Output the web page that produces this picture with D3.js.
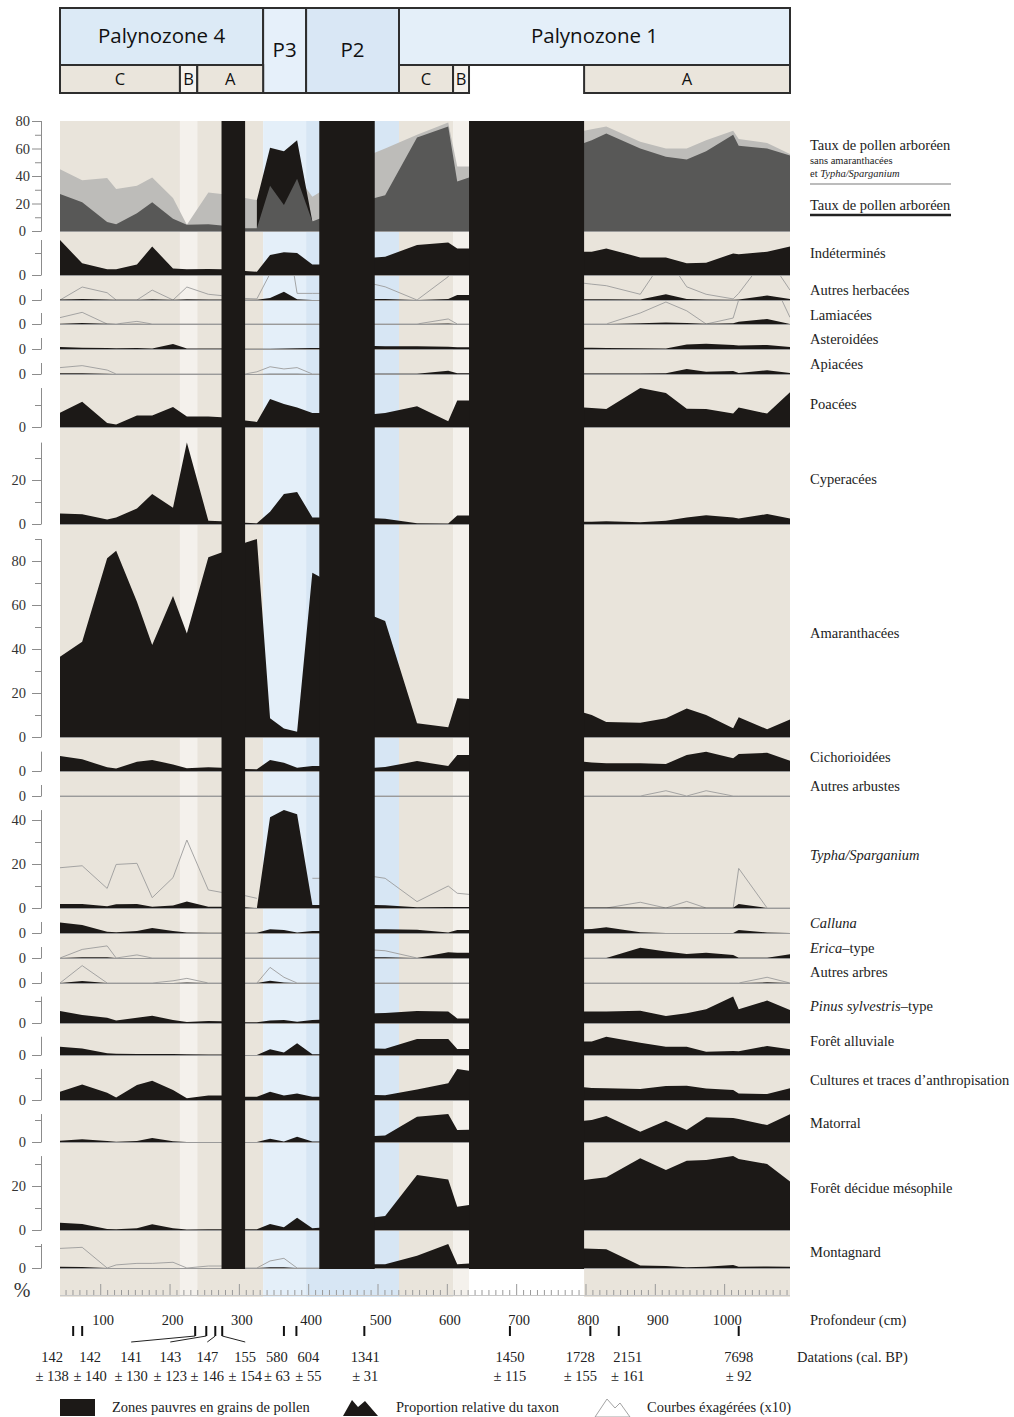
<!DOCTYPE html>
<html><head><meta charset="utf-8">
<script src="https://cdn.jsdelivr.net/npm/d3@7"></script>
<style>body{margin:0;background:#fff} svg{display:block}</style>
</head><body>
<svg id="c" width="1014" height="1417"></svg>
<script>
// ---------------- DATA ----------------
const sampleDepths = [42,74,110,123,153,175,205,225,256,275, 309,326,345,365,384,406,416, 496,511,557,602,615,632, 798,809,830,879,916,946,974,1013,1021,1062,1095];
const poorZones = [[275,309],[416,496],[632,798]];

const apTotal      = [27,21,6.5,5,13,21,9,4.5,5,4, 2,2,33,19,38,7,9, 24,26,68,76,36,39, 64,66,71,60,54,52,58,70,62,60,55];
const apNoAmaTypha = [45,37,38.5,30.5,33,39,24,4.5,28,27, 24,22.5,30,30,40,25,28, 57,60,70,79,47,47, 73,74,76,65,60,60,66,73,67,64,56];
const apP3         = [null,null,null,null,null,null,null,null,null,null, null,22.5,60.5,58,66,7,null, null,null,null,null,null,null, null,null,null,null,null,null,null,null,null,null,null];

const indetermines = [15.9,5.3,2.6,2.6,4.8,12.9,3,2.6,2.7,2.6, 1.8,1.5,9.1,10.3,10,4.8,4.8, 7.9,8.3,13.6,14.8,12.1,12.1, 10.6,10.6,12.1,8,8,5.3,5.6,9.8,9.4,10.6,12.9];
const autresHerb   = [0.2,0.5,0.2,0.1,0.1,0.3,0.1,0.3,0.2,0.2, 0.1,0.1,0.9,3.8,0.3,0,0, 0.5,0.5,0,0.5,2.3,2.3, 0.3,0.3,0.3,0.2,2.6,0.5,0.2,0.1,0.2,2,0.5];
const autresHerbX10= [0,5.9,3.3,0,0,4.5,0,5.9,2.6,2, 0.7,0.5,12,40,3,3,3, 7.1,6,0,10.6,20,20, 7.6,7.2,6.5,2.6,20,6,2.6,0.5,3,20,4.5];
const lamiacees    = [0.1,0.5,0.1,0,0.1,0,0,0,0,0, 0,0,0,0,0,0,0, 0,0,0,0.2,0,0, 0,0,0,0.3,0.7,0.4,0.1,0.3,1,2.3,0];
const lamiaceesX10 = [2.9,5.3,0,0,1.2,0,0,0,0,0, 0,0,0,0,0,0,0, 0,0,0,2.3,0,0, 0,0,0,5,10,6,0,2.7,11,25,3];
const asteroidees  = [0.9,0.6,0.5,0.3,0.4,0.2,2.3,0.2,0.2,0.2, 0.1,0.1,0.1,0.2,0.3,0.5,0.5, 1.4,1.3,1.3,1.0,0.8,0.8, 0.6,0.6,0.5,0.3,0.2,2.1,2.4,1.8,1.6,1.8,0.9];
const apiacees     = [0.3,0.3,0.1,0,0,0,0,0,0,0, 0,0,0.1,0.1,0.1,0,0, 0.1,0.1,0.1,1.5,0.3,0.3, 0.2,0.2,0.2,0.2,0.3,2.3,1,1.4,0.5,1.7,0.5];
const apiaceesX10  = [2.9,3.8,1.8,0,0,0,0,0,0,0, 0,1,3.3,2.3,2.9,0,0, 0,0,0,0,0,0, 0,0,0,0,0,0,0,0,0,0,0];
const poacees      = [6.5,11.5,1.8,1.1,5.2,5.2,9.1,4.8,4.8,4.4, 2.9,2.3,12.7,10.5,8.9,6.4,6.4, 5.9,6.4,9.4,2.6,12.1,12.1, 8.9,8.6,8.2,17.7,15.5,8.3,8.2,6.1,8.9,6.1,15.8];
const cyperacees   = [4.8,4.4,2.1,2.9,7.1,13.6,7.4,37,1.5,1.2, 0.6,0.3,5.6,13.6,14.5,3,3, 2.6,2.4,0.3,0.2,3.9,3.9, 1,1,1.2,0.8,1.5,3,4,3,2.5,4.5,2.5];
const amaranthacees= [36.5,43.3,81.2,84.7,61.5,41.8,64.1,47.1,81.7,83.9, 88.3,90,8.5,3.9,2.4,74.7,72.9, 54.7,52.7,6.2,4.4,17.6,17.3, 11,10,6.8,6.5,8.5,13,10,4,9,3.5,8];
const cichorioidees= [6.8,5.3,1.7,1.1,4.2,5,3,1.2,1.7,1.5, 0.9,0.8,5,3.8,1.5,2.3,2.3, 1.5,1.8,4.5,2.3,7.3,7.3, 4.2,3.9,3.5,3.5,3.2,7.3,8.8,5.8,7.7,8.3,4.7];
const autresArbustes   = [0,0,0,0,0,0,0,0,0,0, 0,0,0,0,0,0,0, 0,0,0,0,0,0, 0,0,0,0,0.15,0,0.15,0,0,0,0];
const autresArbustesX10= [0,0,0,0,0,0,0,0,0,0, 0,0,0,0,0,0,0, 0,0,0,0,0,0, 0,0,0,0,2.4,0,2.4,0,0,0,0];
const typha        = [1.8,1.8,0.8,1.7,1.8,0.6,1.1,2.9,0.6,0.6, 0.3,0,41.2,44.5,42.6,1.4,1.4, 1.4,1.2,0.3,0.5,0.5,0.5, 0.2,0.2,0.2,0.2,0.1,0.2,0.1,0.1,1.8,0,0];
const typhaX10     = [18.3,19.2,8.9,19.8,20.3,4.7,13.8,30.9,8.2,7.1, 5.6,4.4,null,null,null,13.5,13.5, 14.2,13.5,2.9,10,6.7,6.2, 0,0,0,2.6,0,3,0,0,18,0,0];
const calluna      = [4.8,3.6,0.6,0.3,0.9,2.3,0.9,0.2,0.1,0.1, 0.1,0.1,1.7,1.4,0.2,0.9,0.9, 1.7,1.7,1.5,0.2,1.4,1.4, 1.7,1.8,2.6,0.3,0,0,0,0,1.4,0.2,0];
const erica        = [0,0.3,0.3,0,0,0,0,0,0,0, 0,0,0,0,0,0,0, 0.3,0.3,0,2.6,2.4,2.4, 0,0,0,4.7,2.9,1.8,2.4,1.4,0.1,0.1,1.7];
const ericaX10     = [0,3.9,5.5,0,1.4,0,0,0,0,0, 0,0,0,0,0,0,0, 3.6,3.3,0,0,0,0, 0,0,0,0,0,0,0,0,0,0,0];
const autresArbres = [0,0.9,0,0,0,0,0,0.2,0,0, 0,0,1,0.2,0,0,0, 0,0,0,0,0,0, 0,0,0,0,0,0,0,0,0,0.3,0];
const autresArbresX10=[0,7.9,0,0,0,0,1,2.1,0,0, 0,0,7.1,2.6,0,0,0, 0,0,0,0,0,0, 0,0,0,0,0,0,0,0,0,2.6,0];
const pinus        = [5.5,3.6,2.4,1.1,2.4,3.3,1.4,0.5,0.9,0.8, 0.3,0.3,1.1,1.4,0.6,1.4,1.5, 4.4,4.5,5.5,5.2,2.1,2.1, 5.2,5.2,5.2,5.6,3.2,4.4,6.2,12,6.2,10.2,5.9];
const foretAlluviale=[3.8,3,0.8,0.6,0.5,0.4,0.5,0.3,0.2,0.2, 0,0,2.6,1.1,5.3,0.3,0.3, 3,2.8,7.3,7.3,2.7,2.7, 6.1,6.1,8.3,5.6,3.8,3.8,1.5,1.8,1.7,4.1,2.6];
const cultures     = [3.8,7.1,3.3,1.1,6.8,8.8,4.5,0.8,2.1,2.1, 1.5,1.5,3.8,2.1,3,1.5,1.5, 2.3,2.2,4.8,7.6,14.1,13.3, 5.8,5.5,5.3,5,6.4,6.5,5.2,4.5,3,2.7,5.3];
const matorral     = [0.6,1.2,0.5,0.1,0.5,1.8,0.3,0,0,0, 0,0,1.5,0.2,2.4,0.2,0.2, 2.7,2.9,11.5,12.7,5.5,5.6, 9.7,10,11.8,4.7,9.7,5.5,11.2,10.9,10.5,7.7,12.6];
const foretDecidue = [3.3,2.7,0.5,0.3,0.8,2.6,0.8,0.2,0.3,0.3, 0.3,0.3,2.7,1.2,5.6,0.8,1, 5.8,6.4,25,23,10.6,11.4, 22.7,23.2,24,32.6,27.3,31.5,31.8,33.6,32.3,30,22];
const montagnard   = [0.6,0.5,0,0,0,0,0,0,0,0, 0,0,0.3,0.3,0,0,0, 1.7,1.7,5.6,10.9,1.7,2.1, 8.9,8.8,8.5,1.1,0.9,0.3,0.6,1.4,0.6,0.7,0.6];
const montagnardX10= [8.9,9.4,0,1.4,2.1,2.1,2.6,0,0.9,0.9, 0,0,3.2,4.4,0,0,0, 0,0,0,0,0,0, 0,0,0,0,0,0,0,0,0,0,0];

const taxonLabels = [
  [["Indéterminés",0]],[["Autres herbacées",0]],[["Lamiacées",0]],[["Asteroidées",0]],[["Apiacées",0]],
  [["Poacées",0]],[["Cyperacées",0]],[["Amaranthacées",0]],[["Cichorioidées",0]],[["Autres arbustes",0]],
  [["Typha/Sparganium",1]],[["Calluna",1]],[["Erica",1],["–type",0]],[["Autres arbres",0]],
  [["Pinus sylvestris",1],["–type",0]],[["Forêt alluviale",0]],[["Cultures et traces d’anthropisation",0]],
  [["Matorral",0]],[["Forêt décidue mésophile",0]],[["Montagnard",0]]
];
const taxonValues = [indetermines,autresHerb,lamiacees,asteroidees,apiacees,poacees,cyperacees,amaranthacees,
  cichorioidees,autresArbustes,typha,calluna,erica,autresArbres,pinus,foretAlluviale,cultures,matorral,foretDecidue,montagnard];
const taxonX10 = [null,autresHerbX10,lamiaceesX10,null,apiaceesX10,null,null,null,null,autresArbustesX10,
  typhaX10,null,ericaX10,autresArbresX10,null,null,null,null,null,montagnardX10];

const palynozones = [["Palynozone 4",42,335],["P3",335,397],["P2",397,531],["Palynozone 1",531,1095]];
const subzones = [["C",42,215],["B",215,240],["A",240,335],["C",531,609],["B",609,632],["A",798,1095]];
const depthTicks = [100,200,300,400,500,600,700,800,900,1000];
const datationDepths = [61,74,237,253,266,276,365,383,481,691,807,848,1021];
const datationAges   = ["142","142","141","143","147","155","580","604","1341","1450","1728","2151","7698"];
const datationErrors = ["138","140","130","123","146","154","63","55","31","115","155","161","92"];

// ---------------- LAYOUT ----------------
const panelBase = [231,275,300,324,349,374,427,524,737,771,796,908,933,958,983,1023,1055,1100,1142,1230,1268];
const labelCenters = [253,290,315,339,364,404,479,633,757,786,855,923,948,972,1006,1041,1080,1123,1188,1252];
const datLabelShift = [-21,8,-64,-36,-8,23,-7,12,1,0,-10,9,0];
const datConnector  = [0,0,1,1,1,1,0,0,0,0,0,0,0];
const plotTop = 121, stripBottom = 1297;
const serif = "'Liberation Serif','Times New Roman',serif";
const sans = "'Open Sans','Noto Sans',sans-serif";
const FS = 14.5;
const TXT = "#222";
const C = {beige:"#E9E4DB", light:"#F4F1EC", blue1:"#E4EFF9", blue2:"#D7E6F4", black:"#1C1917",
  lightGray:"#BDBCB9", darkGray:"#585857", axis:"#8c8c8c", base:"#9a9a9a", exag:"#9c9c9c"};
const bgZones = [[42,215,C.beige],[215,240,C.light],[240,335,C.beige],[335,397,C.blue1],[397,531,C.blue2],
  [531,609,C.beige],[609,632,C.light],[632,798,"#ffffff"],[798,1095,C.beige]];

const svg = d3.select("#c");
const x = d3.scaleLinear().domain([42,1095]).range([60,790]);

// header
const hdr = svg.append("g");
palynozones.forEach(([t,a,b],i)=>{
  const full = (t==="P3"||t==="P2");
  const fills = ["#DCEAF6","#E6F0FA","#D9E7F5","#E4EFF9"];
  hdr.append("rect").attr("x",x(a)).attr("y",8).attr("width",x(b)-x(a)).attr("height",full?85:57)
    .attr("fill",fills[i]).attr("stroke","#2e2e2e").attr("stroke-width",2);
  hdr.append("text").attr("x",(x(a)+x(b))/2).attr("y",full?57:43).attr("text-anchor","middle")
    .attr("font-family",sans).attr("font-size",20.5).attr("fill","#111").text(t);
});
subzones.forEach(([t,a,b])=>{
  hdr.append("rect").attr("x",x(a)).attr("y",65).attr("width",x(b)-x(a)).attr("height",28)
    .attr("fill",t==="B"?"#F5F2ED":"#EAE5DC").attr("stroke","#2e2e2e").attr("stroke-width",2);
  hdr.append("text").attr("x",(x(a)+x(b))/2).attr("y",85).attr("text-anchor","middle")
    .attr("font-family",sans).attr("font-size",16.5).attr("fill","#111").text(t);
});

// backgrounds
bgZones.forEach(([a,b,c])=>svg.append("rect").attr("x",x(a)).attr("y",plotTop).attr("width",x(b)-x(a))
  .attr("height",stripBottom-plotTop).attr("fill",c));

const defs = svg.append("defs");
const xs = (d,i)=>x(sampleDepths[i]);

function panelScale(i){
  const top = i===0?plotTop:panelBase[i-1], base = panelBase[i];
  const k = i===0?1.375:2.2;
  return {top, base, y:d3.scaleLinear().domain([0,(base-top)/k]).range([base,top])};
}
function clipFor(i,top,base){
  defs.append("clipPath").attr("id","cp"+i).append("rect").attr("x",60).attr("y",top).attr("width",730).attr("height",base-top);
  return svg.append("g").attr("clip-path",`url(#cp${i})`);
}

// panel 0 : arboreal pollen
{
  const {top,base,y} = panelScale(0);
  const g = clipFor(0,top,base);
  const area = d3.area().x(xs).y0(base).y1(v=>y(v)).defined(v=>v!=null);
  g.append("path").attr("d",area(apNoAmaTypha)).attr("fill",C.lightGray);
  g.append("path").attr("d",area(apP3)).attr("fill",C.black);
  g.append("path").attr("d",area(apTotal)).attr("fill",C.darkGray);
}
// taxa panels
taxonValues.forEach((vals,j)=>{
  const i=j+1;
  const {top,base,y} = panelScale(i);
  const g = clipFor(i,top,base);
  if(taxonX10[j]){
    const line = d3.line().x(xs).y(v=>y(v)).defined(v=>v!=null);
    g.append("path").attr("d",line(taxonX10[j])).attr("fill","none").attr("stroke",C.exag).attr("stroke-width",0.9);
  }
  const area = d3.area().x(xs).y0(base).y1(v=>y(v));
  g.append("path").attr("d",area(vals)).attr("fill",C.black);
});
// baselines
panelBase.forEach(b=>svg.append("line").attr("x1",60).attr("x2",790).attr("y1",b+0.5).attr("y2",b+0.5)
  .attr("stroke",C.base).attr("stroke-width",1));
// poor zones
poorZones.forEach(([a,b])=>svg.append("rect").attr("x",x(a)).attr("y",plotTop).attr("width",x(b)-x(a))
  .attr("height",panelBase[panelBase.length-1]+1-plotTop).attr("fill",C.black));

// left axes
panelBase.forEach((b,i)=>{
  const {base,y} = panelScale(i);
  const vals = i===0?[80]:taxonValues[i-1];
  const mx = i===0?80:Math.max(5,d3.max(vals));
  const g = svg.append("g");
  g.append("line").attr("x1",41.5).attr("x2",41.5).attr("y1",base).attr("y2",y(mx)).attr("stroke",C.axis);
  for(let t=0;t<=mx+0.01;t+=10){
    const major = t%20===0;
    g.append("line").attr("x1",major?32:35).attr("x2",41.5).attr("y1",y(t)+0.5).attr("y2",y(t)+0.5).attr("stroke",C.axis);
    if(major) g.append("text").attr("x",(i===0&&t>0)?30:26).attr("y",y(t)+5).attr("text-anchor","end")
      .attr("font-family",serif).attr("font-size",FS).attr("fill","#333").text(t);
  }
});
svg.append("text").attr("x",22).attr("y",1297).attr("text-anchor","middle").attr("font-family",serif)
  .attr("font-size",20).attr("fill","#333").text("%");

// right labels
const rl = svg.append("g").attr("font-family",serif).attr("fill",TXT);
rl.append("text").attr("x",810).attr("y",150).attr("font-size",FS).text("Taux de pollen arboréen");
rl.append("text").attr("x",810).attr("y",164).attr("font-size",10.5).text("sans amaranthacées");
{ const t = rl.append("text").attr("x",810).attr("y",177).attr("font-size",10.5);
  t.append("tspan").text("et "); t.append("tspan").attr("font-style","italic").text("Typha/Sparganium"); }
svg.append("line").attr("x1",810).attr("x2",951).attr("y1",184).attr("y2",184).attr("stroke","#bcbcbc").attr("stroke-width",2);
rl.append("text").attr("x",810).attr("y",210).attr("font-size",FS).text("Taux de pollen arboréen");
svg.append("line").attr("x1",810).attr("x2",951).attr("y1",215).attr("y2",215).attr("stroke","#222").attr("stroke-width",2.5);
taxonLabels.forEach((parts,j)=>{
  const t = rl.append("text").attr("x",810).attr("y",labelCenters[j]+5).attr("font-size",FS);
  parts.forEach(([s,it])=>t.append("tspan").attr("font-style",it?"italic":"normal").text(s));
});

// depth strip ticks
const tk = svg.append("g").attr("stroke","#9a9a9a");
for(let d=50; d<=1090; d+=10){
  const major = d%100===0;
  tk.append("line").attr("x1",x(d)+0.5).attr("x2",x(d)+0.5).attr("y1",major?1284:1290).attr("y2",1295);
}
tk.append("line").attr("x1",60).attr("x2",790).attr("y1",1295.5).attr("y2",1295.5).attr("stroke","#c8c8c8");
const lab = svg.append("g").attr("font-family",serif).attr("font-size",FS).attr("fill",TXT);
depthTicks.forEach(d=>lab.append("text").attr("x",x(d)+3).attr("y",1325).attr("text-anchor","middle").text(d));
lab.append("text").attr("x",810).attr("y",1325).text("Profondeur (cm)");
lab.append("text").attr("x",797).attr("y",1362).text("Datations (cal. BP)");

// datations
datationDepths.forEach((d,i)=>{
  const tx = x(d), lx = tx + datLabelShift[i];
  svg.append("line").attr("x1",tx).attr("x2",tx).attr("y1",1326).attr("y2",1336).attr("stroke","#111").attr("stroke-width",2);
  if(datConnector[i]) svg.append("line").attr("x1",tx).attr("x2",lx).attr("y1",1336).attr("y2",1342)
    .attr("stroke","#222").attr("stroke-width",1);
  lab.append("text").attr("x",lx).attr("y",1362).attr("text-anchor","middle").text(datationAges[i]);
  lab.append("text").attr("x",lx).attr("y",1381).attr("text-anchor","middle").text("± "+datationErrors[i]);
});

// legend
const lg = svg.append("g");
lg.append("rect").attr("x",60).attr("y",1399).attr("width",35).attr("height",17).attr("fill",C.black);
lg.append("path").attr("d","M343,1416 L352,1400 L358,1407 L365,1401 L378,1416 Z").attr("fill",C.black);
lg.append("path").attr("d","M595,1417 L607,1399 L615,1408 L620,1403 L630,1417 Z").attr("fill","none").attr("stroke","#999").attr("stroke-width",0.9);
const lt = lg.append("g").attr("font-family",serif).attr("font-size",FS).attr("fill",TXT);
lt.append("text").attr("x",112).attr("y",1412).text("Zones pauvres en grains de pollen");
lt.append("text").attr("x",396).attr("y",1412).text("Proportion relative du taxon");
lt.append("text").attr("x",647).attr("y",1412).text("Courbes éxagérées (x10)");
</script>
</body></html>
